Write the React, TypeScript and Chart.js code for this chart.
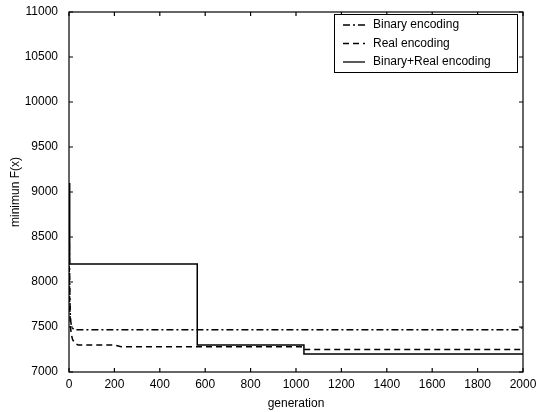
import React, { useEffect, useRef } from "react";
import { Chart, registerables } from "chart.js";

Chart.register(...registerables);

const xTicks = [0, 200, 400, 600, 800, 1000, 1200, 1400, 1600, 1800, 2000];
const yTicks = [7000, 7500, 8000, 8500, 9000, 9500, 10000, 10500, 11000];

const binaryGen = [0, 2, 4, 6, 8, 10, 15, 22, 1985, 1992, 2000];
const binaryVal = [9100, 8300, 7800, 7620, 7560, 7520, 7490, 7470, 7470, 7490, 7490];

const realGen = [0, 3, 6, 10, 16, 25, 40, 200, 230, 1035, 1040, 2000];
const realVal = [8400, 7750, 7520, 7420, 7360, 7320, 7300, 7300, 7280, 7280, 7250, 7250];

const hybridGen = [0, 3, 3, 565, 565, 1035, 1035, 2000];
const hybridVal = [9100, 9000, 8200, 8200, 7300, 7300, 7200, 7200];

const labels = ["Binary encoding", "Real encoding", "Binary+Real encoding"];
const dashes = [[7, 3, 2, 3], [6, 4], []];

const FONT = "'Liberation Sans', Arial, sans-serif";

const pts = (g: number[], v: number[]) => g.map((x, i) => ({ x, y: v[i] }));

const framePlugin = {
  id: "frame",
  afterDraw(chart: any) {
    const { ctx, chartArea: a, scales } = chart;
    const xs = scales.x, ys = scales.y;
    ctx.save();
    ctx.strokeStyle = "#000";
    ctx.lineWidth = 1.2;
    ctx.strokeRect(a.left, a.top, a.right - a.left, a.bottom - a.top);
    const tl = 4;
    ctx.beginPath();
    xTicks.forEach((t) => {
      const px = xs.getPixelForValue(t);
      ctx.moveTo(px, a.bottom);
      ctx.lineTo(px, a.bottom - tl);
      ctx.moveTo(px, a.top);
      ctx.lineTo(px, a.top + tl);
    });
    yTicks.forEach((t) => {
      const py = ys.getPixelForValue(t);
      ctx.moveTo(a.left, py);
      ctx.lineTo(a.left + tl, py);
      ctx.moveTo(a.right, py);
      ctx.lineTo(a.right - tl, py);
    });
    ctx.stroke();

    // legend
    const bx = 334, by = 14, bw = 183, bh = 58;
    ctx.fillStyle = "#fff";
    ctx.fillRect(bx, by, bw, bh);
    ctx.lineWidth = 1;
    ctx.strokeRect(bx + 0.5, by + 0.5, bw, bh);
    ctx.font = `12px ${FONT}`;
    ctx.textBaseline = "middle";
    chart.data.datasets.forEach((ds: any, i: number) => {
      const y = by + 11 + i * 18.5;
      ctx.beginPath();
      ctx.setLineDash(ds.borderDash || []);
      ctx.lineWidth = 1.3;
      ctx.moveTo(343, y);
      ctx.lineTo(365, y);
      ctx.stroke();
      ctx.setLineDash([]);
      ctx.fillStyle = "#000";
      ctx.fillText(ds.label, 373, y);
    });
    ctx.restore();
  },
};

export default function App() {
  const ref = useRef<HTMLCanvasElement>(null);
  useEffect(() => {
    if (!ref.current) return;
    const series = [pts(binaryGen, binaryVal), pts(realGen, realVal), pts(hybridGen, hybridVal)];
    const chart = new Chart(ref.current, {
      type: "line",
      data: {
        datasets: series.map((d, i) => ({
          label: labels[i],
          data: d,
          borderColor: "#000",
          borderWidth: 1.5,
          borderDash: dashes[i],
          pointRadius: 0,
          fill: false,
          tension: 0,
        })),
      },
      options: {
        animation: false,
        responsive: false,
        maintainAspectRatio: false,
        layout: { padding: { left: 8, right: 14, top: 12, bottom: 0 } },
        plugins: { legend: { display: false }, tooltip: { enabled: false } },
        scales: {
          x: {
            type: "linear",
            min: 0,
            max: 2000,
            grid: { display: false },
            border: { display: false },
            afterBuildTicks: (s: any) => { s.ticks = xTicks.map((v) => ({ value: v })); },
            afterFit: (s: any) => { s.height = 40; },
            ticks: { color: "#000", font: { family: FONT, size: 12 }, padding: -3, maxRotation: 0, autoSkip: false, callback: (v: any) => String(v) },
            title: { display: true, text: "generation", color: "#000", font: { family: FONT, size: 12 }, padding: { top: 0, bottom: 1 } },
          },
          y: {
            min: 7000,
            max: 11000,
            grid: { display: false },
            border: { display: false },
            afterBuildTicks: (s: any) => { s.ticks = yTicks.map((v) => ({ value: v })); },
            afterFit: (s: any) => { s.width = 61; },
            ticks: { color: "#000", font: { family: FONT, size: 12 }, padding: 3, autoSkip: false, callback: (v: any) => String(v) },
            title: { display: true, text: "minimun F(x)", color: "#000", font: { family: FONT, size: 12 }, padding: 0 },
          },
        },
      },
      plugins: [framePlugin],
    });
    return () => chart.destroy();
  }, []);
  return (
    <div style={{ position: "fixed", left: 0, top: 0, width: 537, height: 412, background: "#fff" }}>
      <canvas ref={ref} width={537} height={412} style={{ width: 537, height: 412 }} />
    </div>
  );
}
